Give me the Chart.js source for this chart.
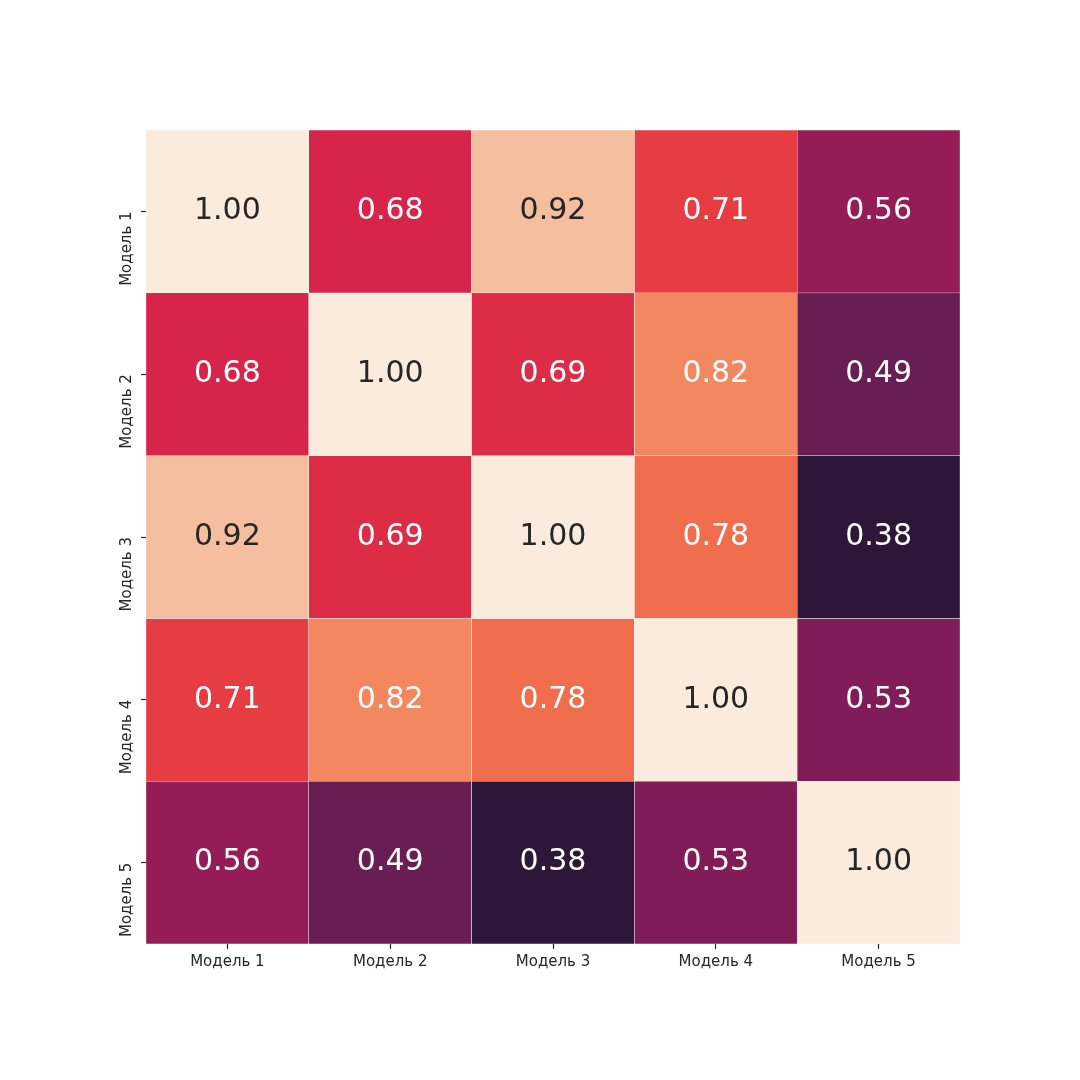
<!DOCTYPE html>
<html>
<head>
<meta charset="utf-8">
<script src="https://cdn.jsdelivr.net/npm/chart.js@4.4.1/dist/chart.umd.min.js"></script>
<style>
  html, body { margin: 0; padding: 0; background: #fff; }
  #wrap { width: 1080px; height: 1080px; }
</style>
</head>
<body>
<div id="wrap"><canvas id="heat" width="1080" height="1080"></canvas></div>
<script>
// Correlation matrix between models
const colLabels = ['Модель 1', 'Модель 2', 'Модель 3', 'Модель 4', 'Модель 5'];
const rowLabels = ['Модель 1', 'Модель 2', 'Модель 3', 'Модель 4', 'Модель 5'];
const row1 = [1.00, 0.68, 0.92, 0.71, 0.56];
const row2 = [0.68, 1.00, 0.69, 0.82, 0.49];
const row3 = [0.92, 0.69, 1.00, 0.78, 0.38];
const row4 = [0.71, 0.82, 0.78, 1.00, 0.53];
const row5 = [0.56, 0.49, 0.38, 0.53, 1.00];
const rows = [row1, row2, row3, row4, row5];

// colour scale (rocket-like), value -> colour stops
const scaleValues = [0.38, 0.49, 0.53, 0.56, 0.68, 0.69, 0.71, 0.78, 0.82, 0.92, 1.00];
const scaleColors = ['#2d1739', '#681e52', '#801d58', '#961c58', '#d6244a', '#dc2c46',
  '#e63d43', '#f06e4d', '#f3875f', '#f5bf9f', '#faebdd'];

const hexToRgb = h => [1, 3, 5].map(i => parseInt(h.slice(i, i + 2), 16));

function colorFor(v) {
  if (v <= scaleValues[0]) return hexToRgb(scaleColors[0]);
  for (let i = 1; i < scaleValues.length; i++) {
    if (v <= scaleValues[i]) {
      const t = (v - scaleValues[i - 1]) / (scaleValues[i] - scaleValues[i - 1]);
      const a = hexToRgb(scaleColors[i - 1]);
      const b = hexToRgb(scaleColors[i]);
      return a.map((c, k) => Math.round(c + (b[k] - c) * t));
    }
  }
  return hexToRgb(scaleColors[scaleColors.length - 1]);
}
const rgbStr = c => `rgb(${c[0]},${c[1]},${c[2]})`;

function textColorFor(v) {
  // same rule as seaborn: relative luminance
  const lum = colorFor(v).map(c => {
    c /= 255;
    return c <= 0.03928 ? c / 12.92 : Math.pow((c + 0.055) / 1.055, 2.4);
  });
  const l = 0.2126 * lum[0] + 0.7152 * lum[1] + 0.0722 * lum[2];
  return l > 0.408 ? '#262626' : '#ffffff';
}

const datasets = rows.map((vals, i) => ({
  label: rowLabels[i],
  data: vals.map((v, j) => ({ x: colLabels[j], y: [i, i + 1], v })),
  backgroundColor: vals.map(v => rgbStr(colorFor(v))),
  borderColor: '#ffffff',
  borderWidth: 0.5,
  borderSkipped: false,
  barPercentage: 1,
  categoryPercentage: 1,
  grouped: false
}));

// write the value in each cell
const cellLabels = {
  id: 'cellLabels',
  afterDatasetsDraw(chart) {
    const ctx = chart.ctx;
    ctx.save();
    ctx.font = '30px "DejaVu Sans"';
    ctx.textAlign = 'center';
    ctx.textBaseline = 'middle';
    chart.data.datasets.forEach((ds, i) => {
      chart.getDatasetMeta(i).data.forEach((el, j) => {
        const { x, y, base } = el.getProps(['x', 'y', 'base'], true);
        const v = ds.data[j].v;
        ctx.fillStyle = textColorFor(v);
        ctx.fillText(v.toFixed(2), x, (y + base) / 2);
      });
    });
    ctx.restore();
  }
};

Chart.defaults.font.family = '"DejaVu Sans"';
Chart.defaults.color = '#262626';

new Chart(document.getElementById('heat'), {
  type: 'bar',
  data: { labels: colLabels, datasets },
  options: {
    responsive: false,
    animation: false,
    layout: { padding: { top: 130, right: 120, bottom: 86, left: 96 } },
    plugins: { legend: { display: false }, tooltip: { enabled: false } },
    scales: {
      x: {
        type: 'category',
        offset: true,
        border: { display: false },
        grid: { offset: false, drawOnChartArea: false, drawTicks: true, tickLength: 5, tickWidth: 1.2, tickColor: '#262626' },
        ticks: { font: { size: 15 }, color: '#262626', padding: 4, maxRotation: 0 },
        afterFit(scale) { scale.height = 50; }
      },
      y: {
        type: 'linear',
        min: 0,
        max: 5,
        reverse: true,
        border: { display: false },
        grid: { drawOnChartArea: false, drawTicks: true, tickLength: 5, tickWidth: 1.2, tickColor: '#262626' },
        afterBuildTicks(scale) {
          scale.ticks = rowLabels.map((_, i) => ({ value: i + 0.5 }));
        },
        ticks: {
          font: { size: 15 },
          color: '#262626',
          minRotation: 90,
          maxRotation: 90,
          crossAlign: 'near',
          padding: 14,
          callback: v => rowLabels[Math.round(v - 0.5)]
        },
        afterFit(scale) { scale.width = 50; }
      }
    }
  },
  plugins: [cellLabels]
});
</script>
</body>
</html>
